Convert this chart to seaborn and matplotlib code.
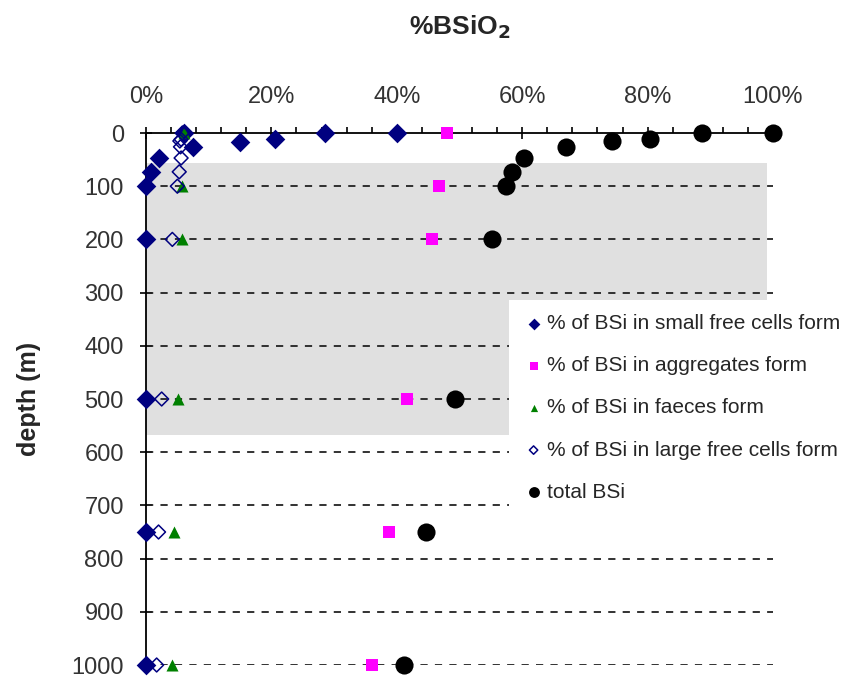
import matplotlib
matplotlib.use("Agg")
import matplotlib.pyplot as plt
import seaborn as sns
from matplotlib.ticker import FixedLocator, FuncFormatter

# values (x = % of BSiO2, y = depth in m)
small_x = [40.0, 28.5, 20.6, 15.0, 7.5, 6.0, 2.0, 0.8, 0.0, 0.0, 0.0, 0.0, 0.0]
small_d = [0, 0, 12, 17, 26, 0, 47, 73, 100, 200, 500, 750, 1000]

aggr_x = [48.0, 46.7, 45.6, 41.6, 38.8, 36.0]
aggr_d = [0, 100, 200, 500, 750, 1000]

faec_x = [6.0, 5.7, 5.7, 5.1, 4.5, 4.1]
faec_d = [0, 100, 200, 500, 750, 1000]

large_x = [5.8, 5.6, 5.4, 5.5, 5.6, 5.3, 5.0, 4.2, 2.5, 2.0, 1.7]
large_d = [0, 12, 15, 26, 47, 73, 100, 200, 500, 750, 1000]

total_x = [100.0, 88.7, 80.4, 74.4, 67.0, 60.3, 58.4, 57.4, 55.2, 49.3, 44.7, 41.1]
total_d = [0, 0, 12, 15, 26, 47, 73, 100, 200, 500, 750, 1000]

depth_ticks = [0, 100, 200, 300, 400, 500, 600, 700, 800, 900, 1000]
pct_ticks = [0, 20, 40, 60, 80, 100]

sns.set_style("ticks")
plt.rcParams["font.family"] = ["Liberation Sans", "DejaVu Sans"]

fig = plt.figure(figsize=(8.52, 6.78), dpi=100)
ax = fig.add_axes([146 / 852, 1 - 665 / 678, (773 - 146) / 852, (665 - 133) / 678])

# grey band behind the upper water column
ax.fill_between([0, 99], 56, 568, color="#e0e0e0", lw=0, zorder=0)

# dashed depth grid
for d in depth_ticks[1:]:
    ax.axhline(d, color="#222222", lw=1.3, ls=(0, (4, 4)), zorder=1)

kw = dict(ax=ax, clip_on=False, zorder=3, linewidth=0)
sns.scatterplot(x=small_x, y=small_d, marker="D", s=100, color="#000080",
                label="% of BSi in small free cells form", **kw)
sns.scatterplot(x=aggr_x, y=aggr_d, marker="s", s=75, color="#ff00ff",
                label="% of BSi in aggregates form", **kw)
sns.scatterplot(x=faec_x, y=faec_d, marker="^", s=75, color="#008000",
                label="% of BSi in faeces form", **kw)
sns.scatterplot(x=large_x, y=large_d, marker="D", s=50, facecolor="none",
                edgecolor="#000080", ax=ax, clip_on=False, zorder=3, linewidth=1.1,
                label="% of BSi in large free cells form")
sns.scatterplot(x=total_x, y=total_d, marker="o", s=170, color="black",
                label="total BSi", **kw)

ax.set_xlim(0, 100)
ax.set_ylim(1000, 0)
ax.xaxis.tick_top()
ax.xaxis.set_label_position("top")
ax.set_xticks(pct_ticks)
ax.xaxis.set_minor_locator(FixedLocator([v for v in range(0, 101, 4) if v % 20]))
ax.xaxis.set_major_formatter(FuncFormatter(lambda v, p: f"{v:.0f}%"))
ax.set_yticks(depth_ticks)

for s in ["right", "bottom"]:
    ax.spines[s].set_visible(False)
for s in ["left", "top"]:
    ax.spines[s].set_color("black")
    ax.spines[s].set_linewidth(1.3)
    ax.spines[s].set_zorder(2)

ax.tick_params(axis="x", which="major", direction="inout", length=8, width=1.2,
               labelsize=17, colors="black", labelcolor="#333333", pad=14)
ax.tick_params(axis="x", which="minor", direction="out", length=4, width=1.2, colors="black")
ax.tick_params(axis="y", direction="inout", length=8, width=1.2, labelsize=17,
               colors="black", labelcolor="#333333", pad=12)

ax.set_xlabel("%BSiO$_\\mathbf{2}$", fontsize=19, fontweight="bold", labelpad=37)
ax.set_ylabel("depth (m)", fontsize=18, fontweight="bold", labelpad=22)

leg = ax.legend(loc="upper left", bbox_to_anchor=(509 / 852, 1 - 300 / 678),
                bbox_transform=fig.transFigure, frameon=True, fancybox=False,
                framealpha=1, facecolor="white", edgecolor="none", fontsize=15,
                labelspacing=1.11, handletextpad=0.15, handlelength=1.0,
                markerscale=0.6, borderpad=0.68, borderaxespad=0)
leg.set_zorder(4)

fig.savefig("out.png", dpi=100)
